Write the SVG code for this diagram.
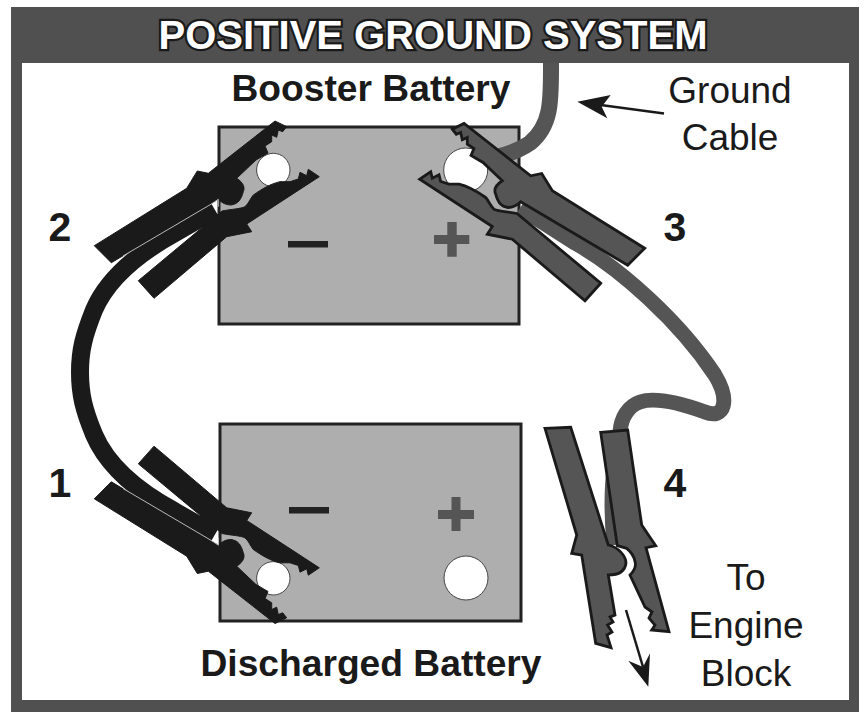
<svg xmlns="http://www.w3.org/2000/svg" xmlns:xlink="http://www.w3.org/1999/xlink" width="868" height="720" viewBox="0 0 868 720">
<style>
.t{font-family:"Liberation Sans",Arial,sans-serif;fill:#1a1a1a;text-anchor:middle}
.b{font-weight:700;font-size:37.2px}
.n{font-weight:700;font-size:41px}
.r{font-size:37px}
.bat{fill:#aeaeae;stroke:#222;stroke-width:3}
.term{fill:#fff;stroke:#444;stroke-width:1}
.black{fill:#1a1a1a;stroke:#1a1a1a;stroke-width:1;stroke-linejoin:miter}
.gray{fill:#555;stroke:#1a1a1a;stroke-width:2.8;stroke-linejoin:miter}
.cb{fill:none;stroke:#1a1a1a;stroke-width:18}
.cg{fill:none;stroke:#555;stroke-width:15}
.ar{fill:none;stroke:#1a1a1a;stroke-width:2.5}
.head{fill:#1a1a1a}
.seam{fill:none;stroke:#ccc;stroke-width:.9}
</style>
<defs>
<g id="clamp">
<path d="M94.3 245.7L186.7 188.3L197.3 171L208.3 173.3L275 121L286.7 126.7L282.7 131.7L278.3 130L276.7 137.3L271.7 135L271.7 141.7L265 146L268 153L256 160L236.7 178.3C244 183 245 188 243.3 191.7C241 200 238 204 231 205C226 205 222 203 218.3 199.3L111.3 262.7Z"/>
<path d="M138.3 280.7L154 298.3L226.7 236.7L251.7 231.7L246.7 224L319.3 176.7L308.3 169.3L306.7 175.7L300 172.3L298.3 179L290 181.7L280 181.7C270 184 262 189 253.3 195C250 199 249 203 245 206.7C240 209 232 209 222 211Z"/>
</g>
<g id="jaw4">
<path d="M545 428.3L570.7 427.3L608.3 545C618 547 626 556 626 563C625 572 618 575 608.3 575L615 615L610 617L613 622L607.5 625L612 632L607 635L611 647.7L595.7 643.3L581.7 555L571.7 553.3L576.7 535Z"/>
<path d="M600.7 432.3L627.7 430L641.7 525L655.7 545.7L646 547.7L669 631.7L651.7 630L655 625L649 618L652 612L645 607L630 575C635 570 636 565 635 561.7C634 555 630 551 626.7 548.3L617.3 545.7Z"/>
</g>
</defs>
<g id="frame">
<rect x="11" y="7" width="848" height="705" fill="#505050"/>
<rect x="22" y="63" width="827" height="637" fill="#fff"/>
</g>
<text class="t" x="433" y="49" font-size="40" font-weight="700" style="fill:#fff;stroke:#1a1a1a;stroke-width:4.5;paint-order:stroke">POSITIVE GROUND SYSTEM</text>
<g id="booster-battery">
<rect class="bat" x="219" y="127" width="300" height="197"/>
<rect x="288" y="241" width="40" height="6.5" fill="#222"/>
<path d="M434 235H447.3V222H456.7V235H469.3V244H456.7V256.7H447.3V244H434Z" fill="#555"/>
<circle class="term" cx="273.3" cy="170" r="16.7"/>
<circle class="term" cx="465.7" cy="170" r="22"/>
<text class="t b" x="371" y="101">Booster Battery</text>
</g>
<g id="discharged-battery">
<rect class="bat" x="220" y="424" width="301" height="197"/>
<rect x="289" y="507" width="40" height="6.5" fill="#222"/>
<path d="M438 510H451.5V497H460.5V510H474V519H460.5V531H451.5V519H438Z" fill="#555"/>
<circle class="term" cx="273.3" cy="578.3" r="16.7"/>
<circle class="term" cx="466" cy="578" r="22"/>
<text class="t b" x="371" y="676">Discharged Battery</text>
</g>
<g id="connectors">
<path class="cb" d="M215 210L175 233C135 255 107 280 94 310C84 335 80 350 80 372C80 395 84 410 94 434.5C107 465 135 490 175 511.5L215 534.5"/>
<path class="cg" style="stroke-width:16" d="M551 63C551 100 552 125 530 143C520 150 512 153 500 156"/>
<path class="cg" d="M520 208L575 243C620 268 680 322 715 375C730 400 725 420 705 412C680 403 655 397 640 402C628 406 621 418 620 432C612 470 610 500 614 545"/>
<path class="ar" d="M664 113.5L597 104.5"/>
<path class="head" d="M577.3 101.7L610.7 95L601.7 106.7L607.3 118.3Z"/>
<path class="ar" d="M626 610L643 667"/>
<path class="head" d="M648.3 686.7L628.3 660.7L643 667L650 653.3Z"/>
</g>
<g id="clamp-2" class="black">
<use href="#clamp"/>
<path class="seam" d="M123 256L213 203L218.3 199.3V206.7"/>
</g>
<g id="clamp-1" class="black" transform="matrix(1 0 0 -1 0 744.5)">
<use href="#clamp"/>
<path class="seam" d="M123 256L213 203L218.3 199.3V206.7"/>
</g>
<g id="clamp-3" class="gray" transform="matrix(-1 0 0 1 739 2.5)">
<use href="#clamp"/>
</g>
<g id="clamp-4" class="gray">
<use href="#jaw4"/>
</g>
<g id="labels">
<text class="t n" x="60" y="241">2</text>
<text class="t n" x="675" y="241">3</text>
<text class="t n" x="60" y="497">1</text>
<text class="t n" x="675" y="497">4</text>
<text class="t r" x="730" y="103">Ground</text>
<text class="t r" x="730" y="150">Cable</text>
<text class="t r" x="746" y="590">To</text>
<text class="t r" x="746" y="638">Engine</text>
<text class="t r" x="746" y="686">Block</text>
</g>
</svg>
